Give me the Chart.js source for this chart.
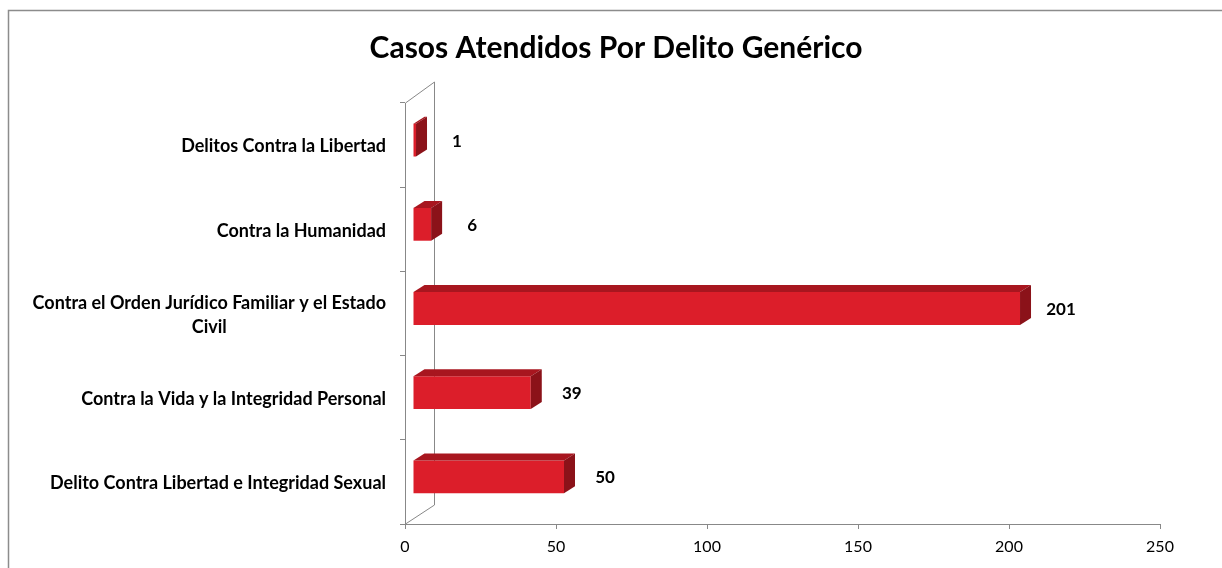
<!DOCTYPE html>
<html>
<head>
<meta charset="utf-8">
<script src="https://cdn.jsdelivr.net/npm/chart.js@4/dist/chart.umd.min.js"></script>
<style>
  html, body { margin: 0; padding: 0; background: #fff; }
  #wrap { width: 1222px; height: 568px; }
</style>
</head>
<body>
<div id="wrap"><canvas id="chart" width="1222" height="568"></canvas></div>
<script>
// Data
const chartTitle = 'Casos Atendidos Por Delito Genérico';
const categories = [
    'Delitos Contra la Libertad',
    'Contra la Humanidad',
    'Contra el Orden Jurídico Familiar y el Estado Civil',
    'Contra la Vida y la Integridad Personal',
    'Delito Contra Libertad e Integridad Sexual'
];
const casos = [1, 6, 201, 39, 50];
const xTicks = [0, 50, 100, 150, 200, 250];

const FRONT = '#DC1E2A';
const TOP = '#A8161F';
const SIDE = '#8B1219';
const AXIS = '#888888';
const FONT = 'Lato, "Open Sans", sans-serif';

// offset of the bar front faces and bar depth (fake 3D, Excel style)
const BAR_SHIFT = { x: 8, y: -5 };
const BAR_DEPTH = { x: 11, y: -7 };
const WALL_DEPTH = { x: 29, y: -21 };

const fakeThreeD = {
    id: 'fakeThreeD',
    beforeDraw(chart) {
        const ctx = chart.ctx;
        ctx.save();
        ctx.fillStyle = '#fff';
        ctx.fillRect(0, 0, chart.width, chart.height);
        // outer frame
        ctx.strokeStyle = '#8c8c8c';
        ctx.lineWidth = 1.5;
        ctx.strokeRect(8.5, 10.5, chart.width + 40, chart.height + 40);
        // title
        ctx.font = 'bold 30px ' + FONT;
        ctx.fillStyle = '#000';
        ctx.textAlign = 'center';
        ctx.textBaseline = 'middle';
        ctx.fillText(chartTitle, 616, 48);
        ctx.restore();
    },
    beforeDatasetsDraw(chart) {
        const ctx = chart.ctx;
        const a = chart.chartArea;
        // back wall lines
        ctx.save();
        ctx.strokeStyle = AXIS;
        ctx.lineWidth = 1;
        ctx.beginPath();
        ctx.moveTo(a.left + 0.5, a.top);
        ctx.lineTo(a.left + WALL_DEPTH.x + 0.5, a.top + WALL_DEPTH.y);
        ctx.lineTo(a.left + WALL_DEPTH.x + 0.5, a.bottom + WALL_DEPTH.y + 2);
        ctx.lineTo(a.left + 0.5, a.bottom);
        ctx.stroke();
        ctx.restore();

        ctx.save();
        ctx.translate(BAR_SHIFT.x, BAR_SHIFT.y);
    },
    afterDatasetsDraw(chart) {
        const ctx = chart.ctx;
        const meta = chart.getDatasetMeta(0);
        meta.data.forEach(bar => {
            const p = bar.getProps(['x', 'y', 'base', 'height']);
            const x0 = p.base, x1 = p.x;
            const y0 = p.y - p.height / 2, y1 = p.y + p.height / 2;
            const dx = BAR_DEPTH.x, dy = BAR_DEPTH.y;
            // top face
            ctx.fillStyle = TOP;
            ctx.beginPath();
            ctx.moveTo(x0, y0);
            ctx.lineTo(x0 + dx, y0 + dy);
            ctx.lineTo(x1 + dx, y0 + dy);
            ctx.lineTo(x1, y0);
            ctx.closePath();
            ctx.fill();
            // right face
            ctx.fillStyle = SIDE;
            ctx.beginPath();
            ctx.moveTo(x1, y0);
            ctx.lineTo(x1 + dx, y0 + dy);
            ctx.lineTo(x1 + dx, y1 + dy);
            ctx.lineTo(x1, y1);
            ctx.closePath();
            ctx.fill();
        });
        ctx.restore();

        // value labels
        ctx.save();
        ctx.font = 'bold 17px ' + FONT;
        ctx.fillStyle = '#000';
        ctx.textAlign = 'center';
        ctx.textBaseline = 'middle';
        meta.data.forEach((bar, i) => {
            ctx.fillText(String(casos[i]), bar.x + BAR_SHIFT.x + 41, bar.y - 4);
        });
        ctx.restore();

        // category labels: block right aligned, lines centred
        const yScale = chart.scales.y;
        ctx.save();
        ctx.font = 'bold 18px ' + FONT;
        ctx.fillStyle = '#000';
        ctx.textAlign = 'center';
        ctx.textBaseline = 'middle';
        const right = 386, maxW = 360, lineH = 24;
        categories.forEach((label, i) => {
            const words = label.split(' ');
            const lines = [];
            let cur = '';
            words.forEach(w => {
                const test = cur ? cur + ' ' + w : w;
                if (ctx.measureText(test).width > maxW && cur) {
                    lines.push(cur);
                    cur = w;
                } else {
                    cur = test;
                }
            });
            lines.push(cur);
            const blockW = Math.max(...lines.map(l => ctx.measureText(l).width));
            const cx = right - blockW / 2;
            const cy = yScale.getPixelForValue(i) + 1.5;
            lines.forEach((l, k) => {
                ctx.fillText(l, cx, cy + (k - (lines.length - 1) / 2) * lineH);
            });
        });
        ctx.restore();
    }
};

new Chart(document.getElementById('chart'), {
    type: 'bar',
    data: {
        labels: categories,
        datasets: [{
            data: casos,
            backgroundColor: FRONT,
            categoryPercentage: 1,
            barPercentage: 0.39,
            clip: false
        }]
    },
    options: {
        responsive: false,
        animation: false,
        indexAxis: 'y',
        layout: { padding: { left: 0, right: 62, top: 103, bottom: 0 } },
        plugins: {
            legend: { display: false },
            tooltip: { enabled: false },
            title: { display: false }
        },
        scales: {
            x: {
                min: xTicks[0],
                max: xTicks[xTicks.length - 1],
                afterBuildTicks: s => { s.ticks = xTicks.map(v => ({ value: v })); },
                ticks: {
                    color: '#000',
                    font: { family: FONT, size: 16 },
                    padding: 8
                },
                grid: { drawOnChartArea: false, tickLength: 5, color: AXIS },
                border: { color: AXIS },
                afterFit: s => { s.height = 44; }
            },
            y: {
                ticks: { display: false },
                grid: { offset: true, drawOnChartArea: false, tickLength: 5, color: AXIS },
                border: { color: AXIS },
                afterFit: s => { s.width = 405; }
            }
        }
    },
    plugins: [fakeThreeD]
});
</script>
</body>
</html>
